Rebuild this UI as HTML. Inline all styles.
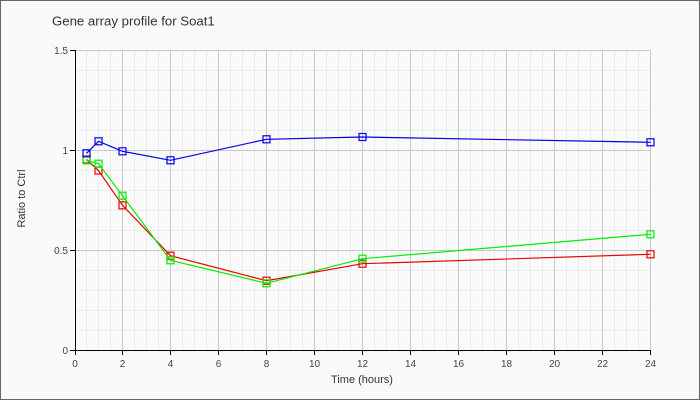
<!DOCTYPE html>
<html><head><meta charset="utf-8"><style>
html,body{margin:0;padding:0;background:#fafafa;}
svg{display:block;}
text{font-family:"Liberation Sans",Arial,sans-serif;}
</style></head><body>
<svg width="700" height="400" viewBox="0 0 700 400" xmlns="http://www.w3.org/2000/svg">
<rect x="0" y="0" width="700" height="400" fill="#fafafa"/>
<rect x="0.5" y="0.5" width="699" height="399" fill="none" stroke="#666" stroke-width="1"/>
<text x="52" y="25.5" font-size="13.2" fill="#333">Gene array profile for Soat1</text>
<g shape-rendering="crispEdges" stroke-width="1">
<g stroke="#ececec">
<line x1="86.5" y1="50" x2="86.5" y2="350"/><line x1="98.5" y1="50" x2="98.5" y2="350"/><line x1="110.5" y1="50" x2="110.5" y2="350"/>
<line x1="134.5" y1="50" x2="134.5" y2="350"/><line x1="146.5" y1="50" x2="146.5" y2="350"/><line x1="158.5" y1="50" x2="158.5" y2="350"/>
<line x1="182.5" y1="50" x2="182.5" y2="350"/><line x1="194.5" y1="50" x2="194.5" y2="350"/><line x1="206.5" y1="50" x2="206.5" y2="350"/>
<line x1="230.5" y1="50" x2="230.5" y2="350"/><line x1="242.5" y1="50" x2="242.5" y2="350"/><line x1="254.5" y1="50" x2="254.5" y2="350"/>
<line x1="278.5" y1="50" x2="278.5" y2="350"/><line x1="290.5" y1="50" x2="290.5" y2="350"/><line x1="302.5" y1="50" x2="302.5" y2="350"/>
<line x1="326.5" y1="50" x2="326.5" y2="350"/><line x1="338.5" y1="50" x2="338.5" y2="350"/><line x1="350.5" y1="50" x2="350.5" y2="350"/>
<line x1="374.5" y1="50" x2="374.5" y2="350"/><line x1="386.5" y1="50" x2="386.5" y2="350"/><line x1="398.5" y1="50" x2="398.5" y2="350"/>
<line x1="422.5" y1="50" x2="422.5" y2="350"/><line x1="434.5" y1="50" x2="434.5" y2="350"/><line x1="446.5" y1="50" x2="446.5" y2="350"/>
<line x1="470.5" y1="50" x2="470.5" y2="350"/><line x1="482.5" y1="50" x2="482.5" y2="350"/><line x1="494.5" y1="50" x2="494.5" y2="350"/>
<line x1="518.5" y1="50" x2="518.5" y2="350"/><line x1="530.5" y1="50" x2="530.5" y2="350"/><line x1="542.5" y1="50" x2="542.5" y2="350"/>
<line x1="566.5" y1="50" x2="566.5" y2="350"/><line x1="578.5" y1="50" x2="578.5" y2="350"/><line x1="590.5" y1="50" x2="590.5" y2="350"/>
<line x1="614.5" y1="50" x2="614.5" y2="350"/><line x1="626.5" y1="50" x2="626.5" y2="350"/><line x1="638.5" y1="50" x2="638.5" y2="350"/>
<line x1="75" y1="70.5" x2="651" y2="70.5"/><line x1="75" y1="90.5" x2="651" y2="90.5"/><line x1="75" y1="110.5" x2="651" y2="110.5"/><line x1="75" y1="130.5" x2="651" y2="130.5"/>
<line x1="75" y1="170.5" x2="651" y2="170.5"/><line x1="75" y1="190.5" x2="651" y2="190.5"/><line x1="75" y1="210.5" x2="651" y2="210.5"/><line x1="75" y1="230.5" x2="651" y2="230.5"/>
<line x1="75" y1="270.5" x2="651" y2="270.5"/><line x1="75" y1="290.5" x2="651" y2="290.5"/><line x1="75" y1="310.5" x2="651" y2="310.5"/><line x1="75" y1="330.5" x2="651" y2="330.5"/>
</g>
<g stroke="#c8c8c8">
<line x1="122.5" y1="50" x2="122.5" y2="350"/><line x1="170.5" y1="50" x2="170.5" y2="350"/><line x1="218.5" y1="50" x2="218.5" y2="350"/>
<line x1="266.5" y1="50" x2="266.5" y2="350"/><line x1="314.5" y1="50" x2="314.5" y2="350"/><line x1="362.5" y1="50" x2="362.5" y2="350"/>
<line x1="410.5" y1="50" x2="410.5" y2="350"/><line x1="458.5" y1="50" x2="458.5" y2="350"/><line x1="506.5" y1="50" x2="506.5" y2="350"/>
<line x1="554.5" y1="50" x2="554.5" y2="350"/><line x1="602.5" y1="50" x2="602.5" y2="350"/><line x1="650.5" y1="50" x2="650.5" y2="350"/>
<line x1="75" y1="50.5" x2="651" y2="50.5"/><line x1="75" y1="150.5" x2="651" y2="150.5"/><line x1="75" y1="250.5" x2="651" y2="250.5"/>
</g>
<g stroke="#000">
<line x1="75.5" y1="50" x2="75.5" y2="351"/>
<line x1="75" y1="350.5" x2="651" y2="350.5"/>
<line x1="70" y1="50.5" x2="75" y2="50.5"/><line x1="70" y1="150.5" x2="75" y2="150.5"/><line x1="70" y1="250.5" x2="75" y2="250.5"/><line x1="70" y1="350.5" x2="75" y2="350.5"/>
<line x1="75.5" y1="351" x2="75.5" y2="355"/>
<line x1="122.5" y1="351" x2="122.5" y2="355"/><line x1="170.5" y1="351" x2="170.5" y2="355"/><line x1="218.5" y1="351" x2="218.5" y2="355"/>
<line x1="266.5" y1="351" x2="266.5" y2="355"/><line x1="314.5" y1="351" x2="314.5" y2="355"/><line x1="362.5" y1="351" x2="362.5" y2="355"/>
<line x1="410.5" y1="351" x2="410.5" y2="355"/><line x1="458.5" y1="351" x2="458.5" y2="355"/><line x1="506.5" y1="351" x2="506.5" y2="355"/>
<line x1="554.5" y1="351" x2="554.5" y2="355"/><line x1="602.5" y1="351" x2="602.5" y2="355"/><line x1="650.5" y1="351" x2="650.5" y2="355"/>
</g>
</g>
<g font-size="10" fill="#444" text-anchor="end">
<text x="68" y="54">1.5</text>
<text x="68" y="154">1</text>
<text x="68" y="254">0.5</text>
<text x="68" y="354">0</text>
</g>
<g font-size="10" fill="#444" text-anchor="middle">
<text x="75" y="367">0</text><text x="122.5" y="367">2</text><text x="170.5" y="367">4</text><text x="218.5" y="367">6</text>
<text x="266.5" y="367">8</text><text x="314.5" y="367">10</text><text x="362.5" y="367">12</text><text x="410.5" y="367">14</text>
<text x="458.5" y="367">16</text><text x="506.5" y="367">18</text><text x="554.5" y="367">20</text><text x="602.5" y="367">22</text>
<text x="650.5" y="367">24</text>
</g>
<text x="362" y="383" font-size="11" fill="#333" text-anchor="middle">Time (hours)</text>
<text transform="translate(25,198.5) rotate(-90)" font-size="11" fill="#333" text-anchor="middle">Ratio to Ctrl</text>

<g fill="none" stroke-width="1.2">
<polyline stroke="#ee0000" points="86.5,159.5 98.5,170.5 122.5,205.3 170.5,255.7 266.5,280.7 362.5,263.7 650.5,254.3"/>
<g stroke="#ee0000">
<rect x="83" y="156" width="7" height="7"/><rect x="95" y="167" width="7" height="7"/><rect x="119" y="201.8" width="7" height="7"/>
<rect x="167" y="252.2" width="7" height="7"/><rect x="263" y="277.2" width="7" height="7"/><rect x="359" y="260.2" width="7" height="7"/>
<rect x="647" y="250.8" width="7" height="7"/>
</g>
<polyline stroke="#00ee00" points="86.5,160.3 98.5,163.7 122.5,195.7 170.5,260.3 266.5,283.3 362.5,258.7 650.5,234.3"/>
<g stroke="#00ee00">
<rect x="83" y="156.8" width="7" height="7"/><rect x="95" y="160.2" width="7" height="7"/><rect x="119" y="192.2" width="7" height="7"/>
<rect x="167" y="256.8" width="7" height="7"/><rect x="263" y="279.8" width="7" height="7"/><rect x="359" y="255.2" width="7" height="7"/>
<rect x="647" y="230.8" width="7" height="7"/>
</g>
<polyline stroke="#0000ee" points="86.5,153.3 98.5,141.3 122.5,151.3 170.5,160.3 266.5,139.3 362.5,137 650.5,142.3"/>
<g stroke="#0000ee">
<rect x="83" y="149.8" width="7" height="7"/><rect x="95" y="137.8" width="7" height="7"/><rect x="119" y="147.8" width="7" height="7"/>
<rect x="167" y="156.8" width="7" height="7"/><rect x="263" y="135.8" width="7" height="7"/><rect x="359" y="133.5" width="7" height="7"/>
<rect x="647" y="138.8" width="7" height="7"/>
</g>
</g>
</svg>
</body></html>
